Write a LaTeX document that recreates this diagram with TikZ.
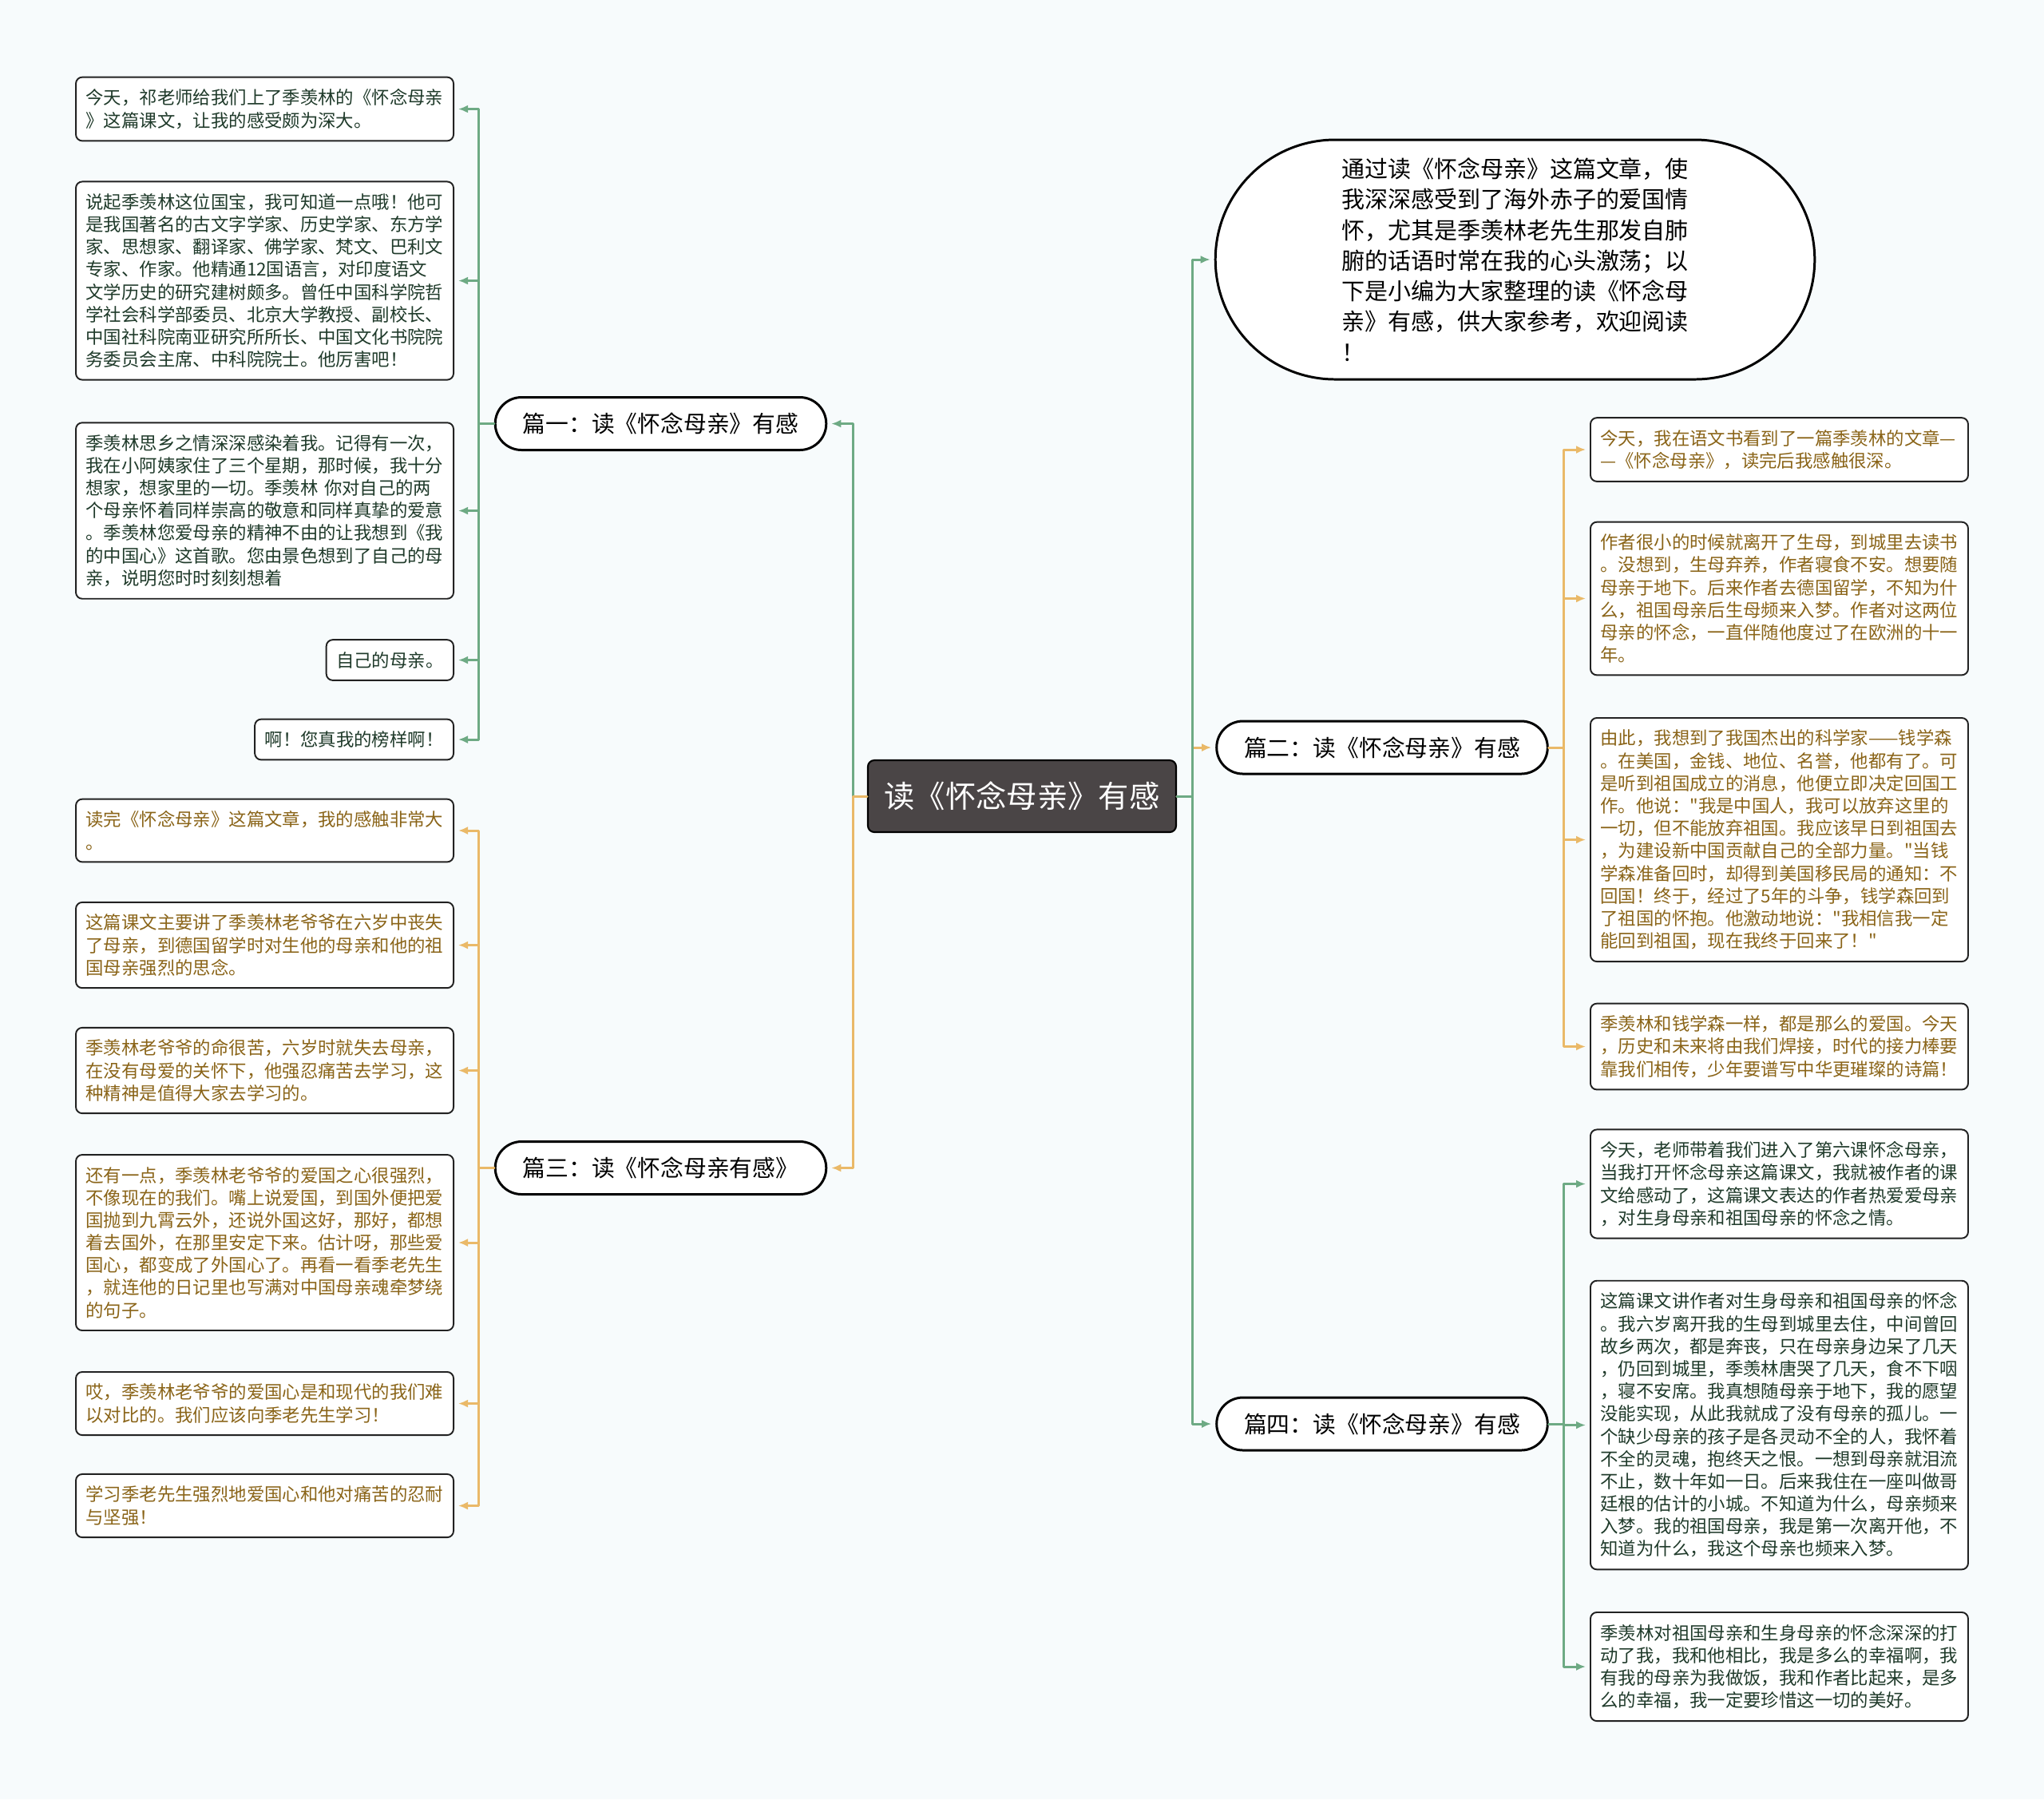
\documentclass[tikz,border=0pt]{standalone}
\usepackage{fontspec}
\setmainfont{Noto Sans CJK SC}[Ligatures=TeXOff]
\usetikzlibrary{arrows.meta, shapes.misc}
\definecolor{MmGreen}{HTML}{6EAA84}
\definecolor{MmGold}{HTML}{EAB968}
\definecolor{MmInkGreen}{HTML}{1F3A2A}
\definecolor{MmInkGold}{HTML}{8A6418}
\definecolor{MmRoot}{HTML}{4A4546}
\definecolor{MmPaper}{HTML}{F7FBFC}
\definecolor{MmEdge}{HTML}{222222}
\tikzset{
  every picture/.style = {line join=round, line cap=round},
  root node/.style = {
    draw=black,
    fill=MmRoot,
    text=white,
    line width=0.6pt,
    rounded corners=0.08cm,
    minimum width=3.86cm,
    minimum height=0.90cm,
    font=\fontsize{10.9}{13}\selectfont
  },
  topic/.style = {
    rounded rectangle,
    draw=black,
    fill=white,
    line width=0.85pt,
    minimum width=4.38cm,
    minimum height=0.66cm,
    text=black,
    font=\fontsize{8.2}{10}\selectfont
  },
  intro box/.style = {
    topic,
    minimum width=7.74cm,
    minimum height=3.00cm,
    align=left,
    font=\fontsize{8.25}{10.9}\selectfont
  },
  leaf/.style = {
    draw=MmEdge,
    fill=white,
    line width=0.55pt,
    rounded corners=0.08cm,
    align=left,
    inner xsep=0.125cm,
    inner ysep=0.15cm,
    font=\fontsize{6.37}{8.02}\selectfont
  },
  wide/.style = {text width=4.48cm},
  leaf green/.style = {leaf, text=MmInkGreen},
  leaf gold/.style = {leaf, text=MmInkGold},
  link/.style = {-{Latex[length=0.12cm,width=0.10cm]}, line width=0.85pt, shorten >=0.05cm},
  link green/.style = {link, draw=MmGreen},
  link gold/.style = {link, draw=MmGold},
}

\begin{document}
\begin{tikzpicture}[x=1cm,y=-1cm]
  \path[use as bounding box, fill=MmPaper] (0,0) rectangle (25.6,22.53);

  % main branches
  \node[root node] (root) at (12.80,9.97) {读《怀念母亲》有感};
  \node[intro box] (intro) at (18.975,3.25) {通过读《怀念母亲》这篇文章，使\\我深深感受到了海外赤子的爱国情\\怀，尤其是季羡林老先生那发自肺\\腑的话语时常在我的心头激荡；以\\下是小编为大家整理的读《怀念母\\亲》有感，供大家参考，欢迎阅读\\！};
  \node[topic] (partA) at (8.275,5.305) {篇一：读《怀念母亲》有感};
  \node[topic] (partB) at (17.31,9.36) {篇二：读《怀念母亲》有感};
  \node[topic] (partC) at (8.275,14.625) {篇三：读《怀念母亲有感》};
  \node[topic] (partD) at (17.31,17.83) {篇四：读《怀念母亲》有感};

  % 篇一
  \node[leaf green, wide, anchor=east] (a1) at (5.69,1.365) {今天，祁老师给我们上了季羡林的《怀念母亲\\》这篇课文，让我的感受颇为深大。};
  \node[leaf green, wide, anchor=east] (a2) at (5.69,3.515) {说起季羡林这位国宝，我可知道一点哦！他可\\是我国著名的古文字学家、历史学家、东方学\\家、思想家、翻译家、佛学家、梵文、巴利文\\专家、作家。他精通12国语言，对印度语文\\文学历史的研究建树颇多。曾任中国科学院哲\\学社会科学部委员、北京大学教授、副校长、\\中国社科院南亚研究所所长、中国文化书院院\\务委员会主席、中科院院士。他厉害吧！};
  \node[leaf green, wide, anchor=east] (a3) at (5.69,6.395) {季羡林思乡之情深深感染着我。记得有一次，\\我在小阿姨家住了三个星期，那时候，我十分\\想家，想家里的一切。季羡林 你对自己的两\\个母亲怀着同样崇高的敬意和同样真挚的爱意\\。季羡林您爱母亲的精神不由的让我想到《我\\的中国心》这首歌。您由景色想到了自己的母\\亲，说明您时时刻刻想着};
  \node[leaf green, anchor=east] (a4) at (5.69,8.265) {自己的母亲。};
  \node[leaf green, anchor=east] (a5) at (5.69,9.26) {啊！您真我的榜样啊！};

  % 篇三
  \node[leaf gold, wide, anchor=east] (c1) at (5.69,10.40) {读完《怀念母亲》这篇文章，我的感触非常大\\。};
  \node[leaf gold, wide, anchor=east] (c2) at (5.69,11.835) {这篇课文主要讲了季羡林老爷爷在六岁中丧失\\了母亲，到德国留学时对生他的母亲和他的祖\\国母亲强烈的思念。};
  \node[leaf gold, wide, anchor=east] (c3) at (5.69,13.405) {季羡林老爷爷的命很苦，六岁时就失去母亲，\\在没有母爱的关怀下，他强忍痛苦去学习，这\\种精神是值得大家去学习的。};
  \node[leaf gold, wide, anchor=east] (c4) at (5.69,15.56) {还有一点，季羡林老爷爷的爱国之心很强烈，\\不像现在的我们。嘴上说爱国，到国外便把爱\\国抛到九霄云外，还说外国这好，那好，都想\\着去国外，在那里安定下来。估计呀，那些爱\\国心，都变成了外国心了。再看一看季老先生\\，就连他的日记里也写满对中国母亲魂牵梦绕\\的句子。};
  \node[leaf gold, wide, anchor=east] (c5) at (5.69,17.575) {哎，季羡林老爷爷的爱国心是和现代的我们难\\以对比的。我们应该向季老先生学习！};
  \node[leaf gold, wide, anchor=east] (c6) at (5.69,18.855) {学习季老先生强烈地爱国心和他对痛苦的忍耐\\与坚强！};

  % 篇二
  \node[leaf gold, wide, anchor=west] (b1) at (19.91,5.63) {今天，我在语文书看到了一篇季羡林的文章—\\—《怀念母亲》，读完后我感触很深。};
  \node[leaf gold, wide, anchor=west] (b2) at (19.91,7.495) {作者很小的时候就离开了生母，到城里去读书\\。没想到，生母弃养，作者寝食不安。想要随\\母亲于地下。后来作者去德国留学，不知为什\\么，祖国母亲后生母频来入梦。作者对这两位\\母亲的怀念，一直伴随他度过了在欧洲的十一\\年。};
  \node[leaf gold, wide, anchor=west] (b3) at (19.91,10.515) {由此，我想到了我国杰出的科学家——钱学森\\。在美国，金钱、地位、名誉，他都有了。可\\是听到祖国成立的消息，他便立即决定回国工\\作。他说："我是中国人，我可以放弃这里的\\一切，但不能放弃祖国。我应该早日到祖国去\\，为建设新中国贡献自己的全部力量。"当钱\\学森准备回时，却得到美国移民局的通知：不\\回国！终于，经过了5年的斗争，钱学森回到\\了祖国的怀抱。他激动地说："我相信我一定\\能回到祖国，现在我终于回来了！"};
  \node[leaf gold, wide, anchor=west] (b4) at (19.91,13.105) {季羡林和钱学森一样，都是那么的爱国。今天\\，历史和未来将由我们焊接，时代的接力棒要\\靠我们相传，少年要谱写中华更璀璨的诗篇！};

  % 篇四
  \node[leaf green, wide, anchor=west] (d1) at (19.91,14.825) {今天，老师带着我们进入了第六课怀念母亲，\\当我打开怀念母亲这篇课文，我就被作者的课\\文给感动了，这篇课文表达的作者热爱爱母亲\\，对生身母亲和祖国母亲的怀念之情。};
  \node[leaf green, wide, anchor=west] (d2) at (19.91,17.845) {这篇课文讲作者对生身母亲和祖国母亲的怀念\\。我六岁离开我的生母到城里去住，中间曾回\\故乡两次，都是奔丧，只在母亲身边呆了几天\\，仍回到城里，季羡林唐哭了几天，食不下咽\\，寝不安席。我真想随母亲于地下，我的愿望\\没能实现，从此我就成了没有母亲的孤儿。一\\个缺少母亲的孩子是各灵动不全的人，我怀着\\不全的灵魂，抱终天之恨。一想到母亲就泪流\\不止，数十年如一日。后来我住在一座叫做哥\\廷根的估计的小城。不知道为什么，母亲频来\\入梦。我的祖国母亲，我是第一次离开他，不\\知道为什么，我这个母亲也频来入梦。};
  \node[leaf green, wide, anchor=west] (d3) at (19.91,20.87) {季羡林对祖国母亲和生身母亲的怀念深深的打\\动了我，我和他相比，我是多么的幸福啊，我\\有我的母亲为我做饭，我和作者比起来，是多\\么的幸福，我一定要珍惜这一切的美好。};

  % root links
  \draw[link gold] (root.east) -- ++(0.19,0) |- (partB.west);
  \draw[link green] (root.east) -- ++(0.19,0) |- (intro.west);
  \draw[link green] (root.east) -- ++(0.19,0) |- (partD.west);
  \draw[link green] (root.west) -- ++(-0.17,0) |- (partA.east);
  \draw[link gold] (root.west) -- ++(-0.17,0) |- (partC.east);

  % leaf links
  \draw[link green] (partA.west) -- ++(-0.19,0) |- (a1.east);
  \draw[link green] (partA.west) -- ++(-0.19,0) |- (a2.east);
  \draw[link green] (partA.west) -- ++(-0.19,0) |- (a3.east);
  \draw[link green] (partA.west) -- ++(-0.19,0) |- (a4.east);
  \draw[link green] (partA.west) -- ++(-0.19,0) |- (a5.east);
  \draw[link gold] (partC.west) -- ++(-0.19,0) |- (c1.east);
  \draw[link gold] (partC.west) -- ++(-0.19,0) |- (c2.east);
  \draw[link gold] (partC.west) -- ++(-0.19,0) |- (c3.east);
  \draw[link gold] (partC.west) -- ++(-0.19,0) |- (c4.east);
  \draw[link gold] (partC.west) -- ++(-0.19,0) |- (c5.east);
  \draw[link gold] (partC.west) -- ++(-0.19,0) |- (c6.east);
  \draw[link gold] (partB.east) -- ++(0.19,0) |- (b1.west);
  \draw[link gold] (partB.east) -- ++(0.19,0) |- (b2.west);
  \draw[link gold] (partB.east) -- ++(0.19,0) |- (b3.west);
  \draw[link gold] (partB.east) -- ++(0.19,0) |- (b4.west);
  \draw[link green] (partD.east) -- ++(0.19,0) |- (d1.west);
  \draw[link green] (partD.east) -- ++(0.19,0) |- (d2.west);
  \draw[link green] (partD.east) -- ++(0.19,0) |- (d3.west);
\end{tikzpicture}
\end{document}
